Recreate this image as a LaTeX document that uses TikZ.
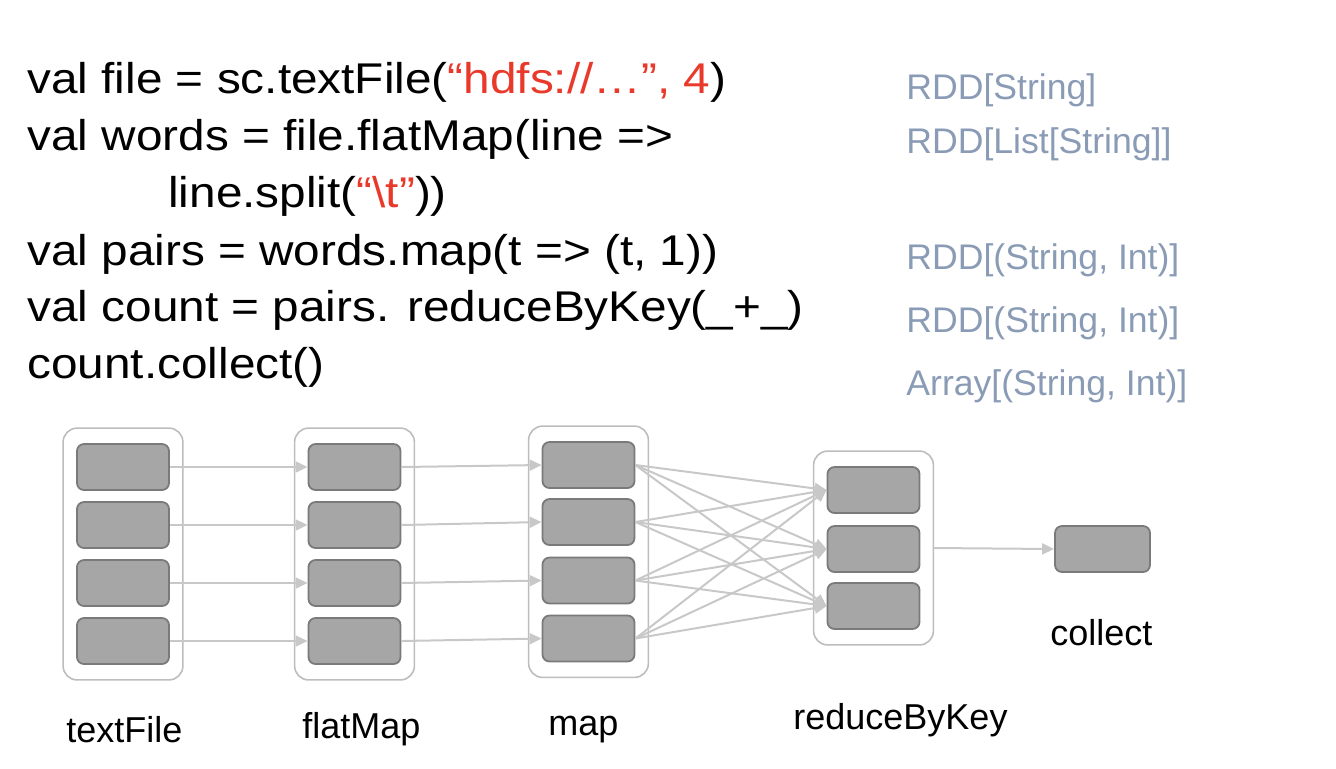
\documentclass[tikz,border=0pt]{standalone}
\usepackage{fontspec}
\setmainfont{Liberation Sans}
\newfontfamily\codefont[FakeStretch=1.11]{Liberation Sans}
\usetikzlibrary{positioning,arrows.meta,fit}

\definecolor{codered}{HTML}{E8392B}
\definecolor{typegray}{HTML}{8A9BB5}
\definecolor{partfill}{HTML}{A6A6A6}
\definecolor{partline}{HTML}{7A7A7A}
\definecolor{stageline}{HTML}{BDBDBD}
\definecolor{flowline}{HTML}{C8C8C8}

\tikzset{
  code/.style={anchor=base west, inner sep=0, font=\codefont\fontsize{21.5}{26}\selectfont},
  rddtype/.style={anchor=base west, inner sep=0, text=typegray, font=\fontsize{17.8}{21}\selectfont},
  oplabel/.style={anchor=base west, inner sep=0, font=\fontsize{18}{21}\selectfont},
  part/.style={draw=partline, fill=partfill, line width=0.9pt, rounded corners=3.5pt,
    minimum width=46pt, minimum height=23pt, inner sep=0},
  stage/.style={draw=stageline, line width=0.8pt, rounded corners=7pt,
    inner xsep=6.5pt, inner ysep=7.5pt},
  flow/.style={draw=flowline, line width=1pt, -{Triangle[length=6pt,width=5.5pt]}},
}

\begin{document}
\begin{tikzpicture}[x=0.5pt,y=-0.5pt]
\useasboundingbox (0,0) rectangle (1336,768);

% code
\node (l1) [code] at (27,93) {val file = sc.textFile(\textcolor{codered}{“hdfs://…”, 4})};
\node (l2) [code] at (27,150) {val words = file.flatMap(line =>};
\node (l3) [code] at (168,207) {line.split(\textcolor{codered}{“\textbackslash t”}))};
\node (l4) [code] at (27,265) {val pairs = words.map(t => (t, 1))};
\node (l5) [code] at (27,321) {val count = pairs. reduceByKey(\_+\_)};
\node (l6) [code] at (27,378) {count.collect()};

% types
\node (ty1) [rddtype] at (906,99) {RDD[String]};
\node (ty2) [rddtype] at (906,153) {RDD[List[String]]};
\node (ty4) [rddtype] at (906,269) {RDD[(String, Int)]};
\node (ty5) [rddtype] at (906,332) {RDD[(String, Int)]};
\node (ty6) [rddtype] at (906,395) {Array[(String, Int)]};

% partitions
\node (t1) [part] at (123,467) {};
\node (t2) [part] at (123,525) {};
\node (t3) [part] at (123,583) {};
\node (t4) [part] at (123,641) {};
\node (f1) [part] at (354.5,467) {};
\node (f2) [part] at (354.5,525) {};
\node (f3) [part] at (354.5,583) {};
\node (f4) [part] at (354.5,641) {};
\node (m1) [part] at (588.5,465) {};
\node (m2) [part] at (588.5,522) {};
\node (m3) [part] at (588.5,580.5) {};
\node (m4) [part] at (588.5,638.5) {};
\node (r1) [part] at (873.5,490) {};
\node (r2) [part] at (873.5,549) {};
\node (r3) [part] at (873.5,606) {};
\node (c1) [part, minimum width=47.5pt] at (1102.5,549) {};

% stages
\node (textFile) [stage, fit=(t1)(t4)] {};
\node (flatMap) [stage, fit=(f1)(f4)] {};
\node (map) [stage, fit=(m1)(m4)] {};
\node (reduceByKey) [stage, fit=(r1)(r3)] {};

% arrows
\foreach \i in {1,...,4} {
  \draw[flow] (t\i) -- (f\i.west);
  \draw[flow] (f\i.east) -- (m\i.west);
  \foreach \j in {1,2,3}
    \draw[flow] (m\i.east) -- (r\j.west);
}
\draw[flow] (reduceByKey.east) -- (c1.west);

% labels
\node (lt) [oplabel] at (66,742) {textFile};
\node (lf) [oplabel] at (302,738) {flatMap};
\node (lm) [oplabel] at (548,735) {map};
\node (lr) [oplabel] at (793,729) {reduceByKey};
\node (lc) [oplabel] at (1050,645) {collect};
\end{tikzpicture}
\end{document}
